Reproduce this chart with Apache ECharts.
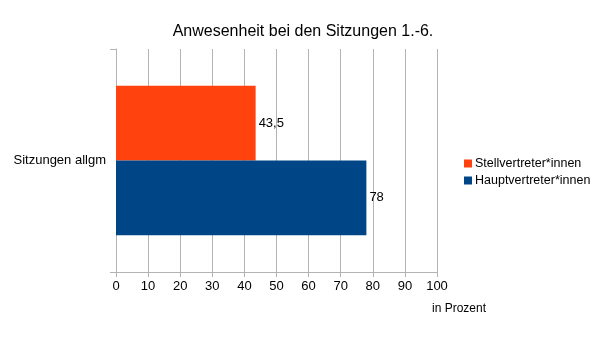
<!DOCTYPE html>
<html><head><meta charset="utf-8">
<script src="https://cdn.jsdelivr.net/npm/echarts@6/dist/echarts.min.js"></script>
<style>html,body{margin:0;padding:0;background:#fff}#c{width:606px;height:340px}</style>
</head><body><div id="c"></div>
<script>
const categories = ['Sitzungen allgm'];
const seriesNames = ['Stellvertreter*innen', 'Hauptvertreter*innen'];
const stellValues = [43.5];
const hauptValues = [78];
const xTicks = [0, 100, 10];
const colors = ['#ff420e', '#004586'];

const chart = echarts.init(document.getElementById('c'), null, {renderer: 'canvas'});
const font = 'Liberation Sans, Arial, sans-serif';
const fmt = p => String(p.value).replace('.', ',');
chart.setOption({
  animation: false,
  textStyle: {fontFamily: font},
  title: {
    text: 'Anwesenheit bei den Sitzungen 1.-6.',
    left: 'center', top: 19,
    textStyle: {fontFamily: font, fontSize: 16, fontWeight: 'normal', color: '#000'}
  },
  legend: {
    orient: 'vertical', left: 459, top: 152,
    itemWidth: 8, itemHeight: 8, itemGap: 4,
    icon: 'rect',
    data: seriesNames,
    textStyle: {fontFamily: font, fontSize: 12.5, color: '#000', padding: [0, 0, 0, -2]}
  },
  grid: {left: 116, right: 169, top: 49, bottom: 68, containLabel: false},
  xAxis: {
    type: 'value', min: xTicks[0], max: xTicks[1], interval: xTicks[2],
    axisLine: {show: true, lineStyle: {color: '#b3b3b3'}},
    axisTick: {show: true, length: 5, lineStyle: {color: '#b3b3b3'}},
    splitLine: {show: true, lineStyle: {color: '#b3b3b3'}},
    axisLabel: {fontFamily: font, fontSize: 13, color: '#000', margin: 8}
  },
  yAxis: {
    type: 'category', data: categories, inverse: true,
    axisLine: {show: true, lineStyle: {color: '#b3b3b3'}},
    axisTick: {show: true, length: 6, lineStyle: {color: '#b3b3b3'}},
    axisLabel: {fontFamily: font, fontSize: 13, color: '#000', margin: 10}
  },
  graphic: [{
    type: 'text', left: 432, top: 303,
    style: {text: 'in Prozent', fontFamily: font, fontSize: 12, fill: '#000'}
  }],
  series: [
    {name: seriesNames[0], type: 'bar', data: stellValues, barGap: '0%', barCategoryGap: '33%',
     itemStyle: {color: colors[0]},
     label: {show: true, position: 'right', distance: 3, formatter: fmt, fontFamily: font, fontSize: 13, color: '#000'}},
    {name: seriesNames[1], type: 'bar', data: hauptValues, barGap: '0%', barCategoryGap: '33%',
     itemStyle: {color: colors[1]},
     label: {show: true, position: 'right', distance: 3, formatter: fmt, fontFamily: font, fontSize: 13, color: '#000'}}
  ]
});
</script></body></html>
